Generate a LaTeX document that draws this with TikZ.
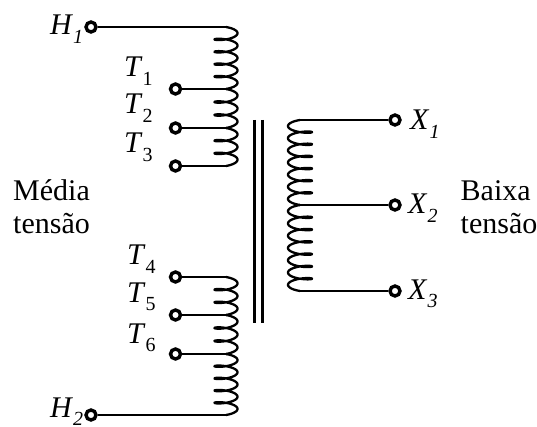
\documentclass[tikz,border=0pt]{standalone}
\usepackage{fontspec}
\setmainfont{Liberation Serif}
\newcommand{\lab}[3][0pt]{\textit{#2}\kern#1\raisebox{-8.5pt}{\fontsize{20}{20}\selectfont #3}}
\newcommand{\coilseg}[5]{% centre x, half width, start y, end y, pitches
  \pgfmathsetmacro{\cp}{(#4-#3)/#5}
  \pgfmathsetmacro{\cz}{#3-\cp/2}
  \pgfmathsetmacro{\ce}{90+360*#5}
  \pgfmathsetmacro{\cs}{int(48*#5)}
  \draw[coilwire] plot[domain=270:\ce,samples=\cs] ({#1+(#2)*cos(\x)},{\cz+\cp*(\x/360)+\cp/4*sin(\x)});
}
\tikzset{
  coilwire/.style={line width=2.3pt,line join=round},
  wire/.style={line width=2.3pt},
  terminal/.style={circle,draw,line width=3.4pt,fill=white,minimum size=10pt,inner sep=0pt},
  lbl/.style={inner sep=0pt,font=\fontsize{30}{33}\selectfont},
  txt/.style={inner sep=0pt,align=left,font=\fontsize{30}{33}\selectfont},
  core/.style={line width=2.5pt}
}
\begin{document}
\begin{tikzpicture}[x=1pt,y=-1pt]
\useasboundingbox (0,0) rectangle (537,427);
% coordinates of the winding taps
\coordinate (a0) at (226,27);
\coordinate (a1) at (226,89);
\coordinate (a2) at (226,128);
\coordinate (a3) at (226,166);
\coordinate (b0) at (226,277);
\coordinate (b1) at (226,315);
\coordinate (b2) at (226,354);
\coordinate (b3) at (226,415);
\coordinate (c0) at (300,120);
\coordinate (c1) at (300,205);
\coordinate (c2) at (300,291);
% windings
\coilseg{226}{11.5}{27}{89}{5}
\coilseg{226}{11.5}{89}{128}{3}
\coilseg{226}{11.5}{128}{166}{3}
\coilseg{226}{11.5}{277}{315}{3}
\coilseg{226}{11.5}{315}{354}{3}
\coilseg{226}{11.5}{354}{415}{5}
\coilseg{300}{-12}{120}{205}{7}
\coilseg{300}{-12}{205}{291}{7}
% core
\coordinate (k1t) at (254.3,120);
\coordinate (k1b) at (254.3,323);
\coordinate (k2t) at (262.3,120);
\coordinate (k2b) at (262.3,323);
\draw[core] (k1t) -- (k1b);
\draw[core] (k2t) -- (k2b);
% connectors
\node[terminal] (h1) at (91,27) {};
\node[terminal] (h2) at (91,415) {};
\node[terminal] (t1) at (175.5,89) {};
\node[terminal] (t2) at (175.5,128) {};
\node[terminal] (t3) at (175.5,166) {};
\node[terminal] (t4) at (175.5,277) {};
\node[terminal] (t5) at (175.5,315) {};
\node[terminal] (t6) at (175.5,354) {};
\node[terminal] (x1) at (395,120) {};
\node[terminal] (x2) at (395,205) {};
\node[terminal] (x3) at (395,291) {};
\draw[wire] (h1) -- (a0);
\draw[wire] (t1) -- (a1);
\draw[wire] (t2) -- (a2);
\draw[wire] (t3) -- (a3);
\draw[wire] (t4) -- (b0);
\draw[wire] (t5) -- (b1);
\draw[wire] (t6) -- (b2);
\draw[wire] (h2) -- (b3);
\draw[wire] (c0) -- (x1);
\draw[wire] (c1) -- (x2);
\draw[wire] (c2) -- (x3);
% labels
\node[lbl,anchor=base west] (lh1) at (50,35) {\lab{H}{\textit{1}}};
\node[lbl,anchor=base west] (lh2) at (50,417) {\lab{H}{\textit{2}}};
\node[lbl,anchor=base west] (lt1) at (124,77) {\lab{T}{1}};
\node[lbl,anchor=base west] (lt2) at (124,114) {\lab{T}{2}};
\node[lbl,anchor=base west] (lt3) at (124,153) {\lab{T}{3}};
\node[lbl,anchor=base west] (lt4) at (127,265) {\lab{T}{4}};
\node[lbl,anchor=base west] (lt5) at (127,302) {\lab{T}{5}};
\node[lbl,anchor=base west] (lt6) at (127,343) {\lab{T}{6}};
\node[lbl,anchor=base west] (lx1) at (410,130) {\lab{X}{\textit{1}}};
\node[lbl,anchor=base west] (lx2) at (408,214) {\lab{X}{\textit{2}}};
\node[lbl,anchor=base west] (lx3) at (408,299) {\lab{X}{\textit{3}}};
\node[txt,anchor=base west] (mt) at (13,234) {Média\\tensão};
\node[txt,anchor=base west] (bt) at (460.5,234) {Baixa\\tensão};
\end{tikzpicture}
\end{document}
